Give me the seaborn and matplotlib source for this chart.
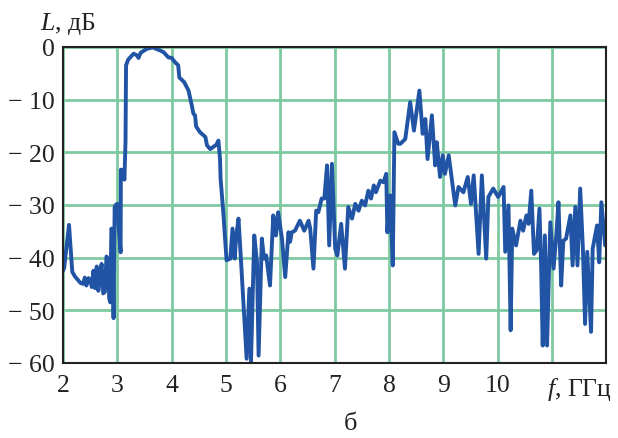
import numpy as np
import pandas as pd
import matplotlib
matplotlib.use("Agg")
import matplotlib.pyplot as plt
import seaborn as sns

# frequency, GHz
freq = [2.00, 2.02, 2.11, 2.17, 2.22, 2.27, 2.32, 2.37, 2.40, 2.43, 2.47, 2.50, 2.53,
        2.56, 2.59, 2.62, 2.65, 2.68, 2.71, 2.74, 2.77, 2.80, 2.83, 2.85, 2.87, 2.89,
        2.91, 2.93, 2.95, 2.97, 3.00, 3.03, 3.06, 3.065, 3.10, 3.13, 3.15, 3.16, 3.20,
        3.30, 3.36, 3.39, 3.43, 3.54, 3.65, 3.79, 3.85, 3.94, 4.00, 4.06, 4.12, 4.14,
        4.23, 4.31, 4.37, 4.40, 4.43, 4.45, 4.52, 4.62, 4.65, 4.71, 4.82, 4.86, 4.89,
        4.90, 4.95, 5.01, 5.08, 5.12, 5.16, 5.19, 5.23, 5.26, 5.38, 5.43, 5.46, 5.52,
        5.57, 5.60, 5.66, 5.70, 5.74, 5.81, 5.87, 5.92, 5.96, 6.03, 6.09, 6.15, 6.18,
        6.21, 6.27, 6.36, 6.44, 6.52, 6.55, 6.61, 6.66, 6.70, 6.76, 6.81, 6.86, 6.90,
        6.95, 7.01, 7.05, 7.12, 7.19, 7.25, 7.32, 7.38, 7.44, 7.50, 7.56, 7.62, 7.67,
        7.72, 7.76, 7.84, 7.90, 7.95, 7.97, 8.02, 8.07, 8.10, 8.17, 8.21, 8.30, 8.39,
        8.46, 8.56, 8.62, 8.67, 8.71, 8.79, 8.85, 8.88, 8.94, 8.99, 9.03, 9.10, 9.22,
        9.28, 9.37, 9.45, 9.51, 9.56, 9.65, 9.71, 9.79, 9.83, 9.92, 10.01, 10.11, 10.14,
        10.20, 10.24, 10.27, 10.34, 10.42, 10.47, 10.53, 10.57, 10.62, 10.67, 10.72,
        10.77, 10.80, 10.83, 10.87, 10.91, 10.97, 11.03, 11.08, 11.12, 11.17, 11.21,
        11.26, 11.34, 11.38, 11.43, 11.47, 11.52, 11.57, 11.61, 11.65, 11.72, 11.75,
        11.83, 11.87, 11.91, 11.98]

# level, dB
level = [-42.5, -42.0, -33.8, -42.7, -43.6, -44.2, -44.8, -45.0, -43.8, -45.3, -43.9,
         -44.2, -45.6, -42.5, -45.8, -41.7, -46.3, -43.5, -41.2, -46.8, -46.5, -39.8,
         -40.5, -47.8, -48.5, -34.5, -35.0, -51.5, -30.5, -30.0, -29.8, -35.0, -39.0,
         -23.3, -23.5, -25.2, -18.0, -3.5, -2.4, -1.3, -1.6, -2.1, -1.1, -0.4, -0.1,
         -0.7, -1.0, -2.0, -2.1, -2.9, -3.5, -5.8, -6.7, -8.3, -11.1, -12.7, -13.0,
         -15.1, -16.2, -17.1, -18.7, -19.4, -18.6, -17.8, -21.3, -25.0, -31.4, -40.5,
         -40.2, -34.5, -40.2, -35.8, -32.6, -37.7, -59.2, -45.9, -59.8, -35.8, -40.8,
         -58.6, -36.4, -40.2, -39.6, -45.3, -32.0, -35.8, -31.4, -36.4, -43.7, -35.2,
         -37.0, -35.2, -34.9, -33.0, -34.9, -33.0, -34.5, -42.1, -31.1, -31.4, -28.8,
         -28.8, -22.5, -37.7, -22.2, -38.3, -39.6, -33.6, -42.1, -30.4, -32.6, -29.8,
         -31.1, -29.2, -30.1, -27.3, -28.8, -26.3, -27.6, -25.4, -25.7, -24.1, -35.2,
         -28.2, -41.5, -16.2, -18.4, -18.4, -17.5, -10.5, -15.9, -8.3, -16.5, -13.7,
         -21.3, -13.0, -22.5, -18.1, -24.7, -20.6, -24.1, -20.6, -30.1, -26.6, -27.6,
         -24.7, -29.8, -24.4, -39.3, -24.4, -40.2, -28.5, -26.9, -28.5, -26.6, -38.9,
         -30.1, -53.8, -34.5, -37.7, -33.0, -34.9, -32.0, -33.6, -27.3, -39.3, -38.6,
         -30.7, -41.2, -56.7, -35.8, -56.7, -33.3, -42.1, -35.8, -29.5, -45.3, -36.8,
         -36.4, -32.0, -41.5, -30.4, -41.5, -26.9, -38.3, -52.6, -38.9, -54.1, -38.3,
         -33.9, -40.9, -29.5, -37.7]

x_ticks = [2, 3, 4, 5, 6, 7, 8, 9, 10, 11, 12]
x_labels = ["2", "3", "4", "5", "6", "7", "8", "9", "10", "", ""]
y_ticks = [0, -10, -20, -30, -40, -50, -60]
y_labels = ["0", "\u2212 10", "\u2212 20", "\u2212 30", "\u2212 40", "\u2212 50", "\u2212 60"]

df = pd.DataFrame({"f": freq, "L": level})

sns.set_style("white")
plt.rcParams["font.family"] = ["Liberation Serif", "DejaVu Serif"]
plt.rcParams["mathtext.fontset"] = "custom"
plt.rcParams["mathtext.it"] = "Liberation Serif:italic"
plt.rcParams["mathtext.rm"] = "Liberation Serif"

fig = plt.figure(figsize=(6.18, 4.39), dpi=100)
ax = fig.add_axes([0.102, 0.171, 0.879, 0.72])

sns.lineplot(data=df, x="f", y="L", ax=ax, sort=False, color="#2154a5",
             linewidth=2.8, zorder=3)

ax.set_xlim(2, 12)
ax.set_ylim(-60, 0)
ax.set_xticks(x_ticks)
ax.set_xticklabels(x_labels)
ax.set_yticks(y_ticks)
ax.set_yticklabels(y_labels)
ax.grid(True, color="#7ecaa0", linewidth=2)
ax.set_axisbelow(True)
ax.tick_params(length=0, labelsize=18.5, colors="#222222")
ax.tick_params(axis="x", pad=8)
ax.tick_params(axis="y", pad=6)
ax.set_xlabel("")
ax.set_ylabel("")
for s in ax.spines.values():
    s.set_color("#222222")
    s.set_linewidth(1.5)
    s.set_zorder(4)

fig.text(0.065, 0.945, "$L$, дБ", fontsize=18.5, va="center", ha="left", color="#222222")
fig.text(0.885, 0.113, "$f$, ГГц", fontsize=18.5, va="center", ha="left", color="#222222")
fig.text(0.567, 0.008, "б", fontsize=19, va="bottom", ha="center", color="#222222")

fig.savefig("out.png", dpi=100)
